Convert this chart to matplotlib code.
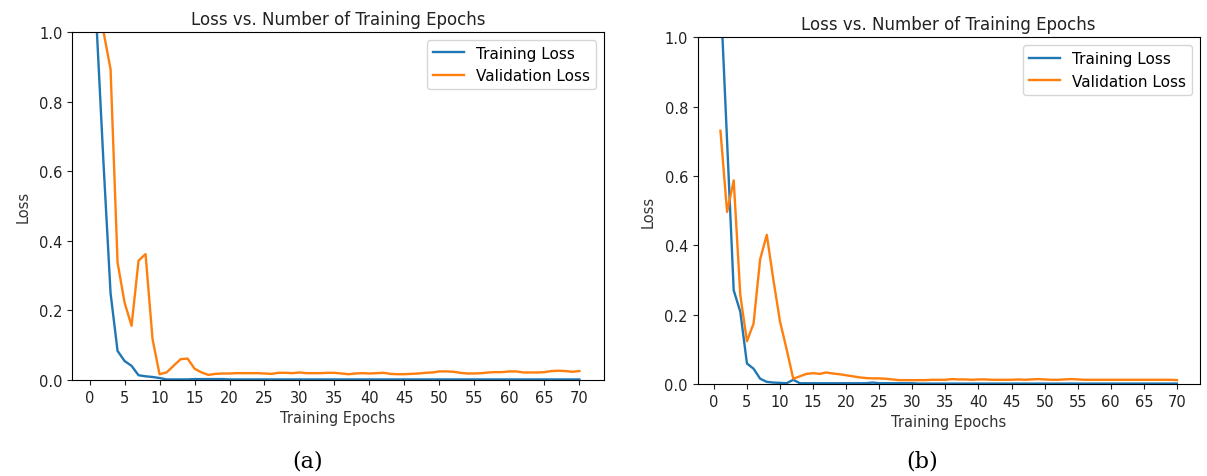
import matplotlib.pyplot as plt
import numpy as np

epochs = list(range(1, 71))

# (a) training / validation loss
train_a = [1.02, 0.620, 0.250, 0.084, 0.055, 0.041, 0.014, 0.011, 0.009, 0.006,
           0.002, 0.002, 0.002, 0.002, 0.003, 0.003, 0.003, 0.003, 0.003, 0.002,
           0.002, 0.002, 0.002, 0.002, 0.002, 0.002, 0.002, 0.002, 0.002, 0.002,
           0.002, 0.002, 0.002, 0.002, 0.002, 0.002, 0.002, 0.002, 0.002, 0.002,
           0.002, 0.002, 0.002, 0.002, 0.002, 0.002, 0.002, 0.002, 0.002, 0.002,
           0.002, 0.002, 0.002, 0.002, 0.002, 0.002, 0.002, 0.002, 0.002, 0.002,
           0.002, 0.002, 0.002, 0.002, 0.002, 0.002, 0.002, 0.002, 0.002, 0.002]
val_a = [1.60, 1.00, 0.893, 0.338, 0.223, 0.156, 0.343, 0.362, 0.118, 0.017,
         0.022, 0.041, 0.060, 0.062, 0.033, 0.022, 0.015, 0.018, 0.019, 0.019,
         0.020, 0.020, 0.020, 0.020, 0.019, 0.018, 0.021, 0.021, 0.020, 0.022,
         0.020, 0.020, 0.020, 0.021, 0.021, 0.019, 0.017, 0.019, 0.020, 0.019,
         0.020, 0.021, 0.018, 0.017, 0.017, 0.018, 0.019, 0.021, 0.022, 0.025,
         0.025, 0.024, 0.021, 0.019, 0.019, 0.020, 0.022, 0.023, 0.023, 0.025,
         0.025, 0.022, 0.022, 0.022, 0.023, 0.026, 0.027, 0.026, 0.024, 0.026]

# (b) training / validation loss
train_b = [1.13, 0.700, 0.270, 0.208, 0.059, 0.044, 0.015, 0.006, 0.004, 0.003,
           0.002, 0.012, 0.002, 0.002, 0.002, 0.002, 0.002, 0.002, 0.002, 0.002,
           0.002, 0.002, 0.002, 0.004, 0.002, 0.002, 0.002, 0.002, 0.002, 0.002,
           0.001, 0.001, 0.001, 0.001, 0.001, 0.001, 0.001, 0.001, 0.001, 0.001,
           0.001, 0.001, 0.001, 0.001, 0.001, 0.001, 0.001, 0.001, 0.001, 0.001,
           0.001, 0.001, 0.001, 0.001, 0.001, 0.001, 0.001, 0.001, 0.001, 0.001,
           0.001, 0.001, 0.001, 0.001, 0.001, 0.001, 0.001, 0.001, 0.001, 0.001]
val_b = [0.730, 0.496, 0.587, 0.256, 0.123, 0.174, 0.360, 0.430, 0.300, 0.180,
         0.100, 0.015, 0.022, 0.029, 0.031, 0.029, 0.033, 0.030, 0.028, 0.025,
         0.022, 0.019, 0.017, 0.016, 0.016, 0.015, 0.013, 0.011, 0.011, 0.011,
         0.011, 0.011, 0.012, 0.012, 0.012, 0.014, 0.013, 0.013, 0.012, 0.013,
         0.013, 0.012, 0.012, 0.012, 0.012, 0.013, 0.012, 0.013, 0.014, 0.013,
         0.012, 0.012, 0.013, 0.014, 0.013, 0.012, 0.012, 0.012, 0.012, 0.012,
         0.012, 0.012, 0.012, 0.012, 0.012, 0.012, 0.012, 0.012, 0.012, 0.011]

panels = [("(a)", train_a, val_a), ("(b)", train_b, val_b)]
boxes = [[0.060, 0.201, 0.440, 0.730], [0.578, 0.193, 0.416, 0.727]]
caption_x = [308 / 1207, 922 / 1207]

fig = plt.figure(figsize=(12.07, 4.77), dpi=100)

for (tag, tr, va), box, cx in zip(panels, boxes, caption_x):
    ax = fig.add_axes(box)
    ax.plot(epochs, tr, color='tab:blue', lw=1.7, label='Training Loss')
    ax.plot(epochs, va, color='tab:orange', lw=1.7, label='Validation Loss')
    ax.set_ylim(0, 1.0)
    ax.set_xticks(np.arange(0, 71, 5))
    ax.tick_params(labelsize=10.5, colors='#222222')
    ax.set_title('Loss vs. Number of Training Epochs', fontsize=12, color='#222222')
    ax.set_xlabel('Training Epochs', fontsize=10.5, color='#333333')
    ax.set_ylabel('Loss', fontsize=10.5, color='#333333', labelpad=6)
    ax.legend(loc='upper right', fontsize=11)
    # caption under each panel
    fig.text(cx, 1 - 462 / 477, tag, ha='center', va='center',
             fontsize=16, family='DejaVu Serif')

fig.savefig('out.png', dpi=100)
